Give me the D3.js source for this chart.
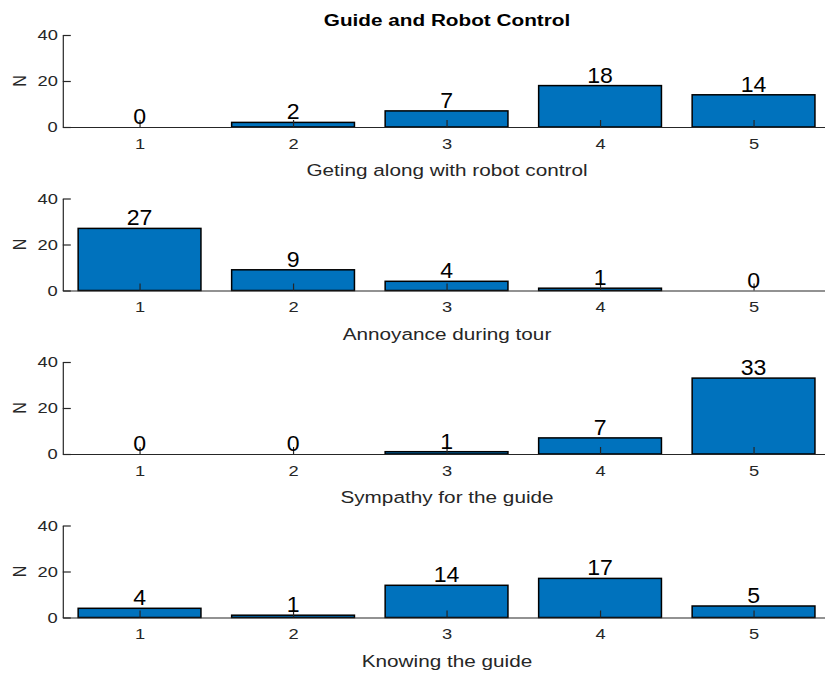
<!DOCTYPE html>
<html><head><meta charset="utf-8">
<script src="https://cdn.jsdelivr.net/npm/d3@7"></script>
<style>body{margin:0;background:#fff}svg{display:block}text{font-family:"Liberation Sans",Arial,sans-serif}</style>
</head><body>
<svg id="c" width="825" height="674"></svg>
<script>
const categories = [1, 2, 3, 4, 5];
const panelLabels = ["Geting along with robot control", "Annoyance during tour", "Sympathy for the guide", "Knowing the guide"];
const seriesControl = [0, 2, 7, 18, 14];
const seriesAnnoyance = [27, 9, 4, 1, 0];
const seriesSympathy = [0, 0, 1, 7, 33];
const seriesKnowing = [4, 1, 14, 17, 5];
const yTicks = [0, 20, 40];
const title = "Guide and Robot Control";
const yLabel = "N";

const series = [seriesControl, seriesAnnoyance, seriesSympathy, seriesKnowing];
const svg = d3.select("#c");
const ink = "#262626";
const SX = 1.22;
const x = d3.scaleLinear().domain([0.5, 5.5]).range([62.8, 830.3]);
const tops = [35, 198.5, 362, 525.5];
const ph = 92;
const bw = (x(2) - x(1)) * 0.8;

function stext(parent, tx, ty, str, size, opts = {}) {
  return parent.append("text")
    .attr("transform", `translate(${tx},${ty}) scale(${opts.sx || SX},1)`)
    .attr("text-anchor", opts.anchor || "middle")
    .style("font-size", size + "px")
    .attr("font-weight", opts.weight || "normal")
    .attr("fill", opts.fill || ink)
    .text(str);
}

stext(svg, 447, 26, title, 17, {weight: "bold", fill: "#000"});

series.forEach((vals, i) => {
  const top = tops[i];
  const y = d3.scaleLinear().domain([0, 40]).range([top + ph, top]);
  const g = svg.append("g");
  g.selectAll("rect").data(vals).join("rect")
    .attr("x", (d, j) => x(categories[j]) - bw / 2)
    .attr("y", d => y(d))
    .attr("width", bw)
    .attr("height", d => y(0) - y(d))
    .attr("fill", "#0072BD").attr("stroke", "#000").attr("stroke-width", 1.5);
  const xa = g.append("g").attr("transform", `translate(0,${y(0)})`)
    .call(d3.axisBottom(x).tickValues(categories).tickFormat(d3.format("d")).tickSizeInner(-7).tickSizeOuter(0).tickPadding(11));
  xa.select(".domain").attr("stroke", ink).attr("stroke-width", 1.2);
  xa.selectAll(".tick line").attr("stroke", ink).attr("stroke-width", 1.2);
  xa.selectAll(".tick text").attr("fill", ink).style("font-size", "15px")
    .attr("transform", `scale(${SX},1)`);
  const ya = g.append("g").attr("transform", `translate(${x(0.5)},0)`)
    .call(d3.axisLeft(y).tickValues(yTicks).tickSizeInner(-8).tickSizeOuter(0).tickPadding(5));
  ya.select(".domain").attr("stroke", ink).attr("stroke-width", 1.2);
  ya.selectAll(".tick line").attr("stroke", ink).attr("stroke-width", 1.2);
  ya.selectAll(".tick text").attr("fill", ink).style("font-size", "15px")
    .attr("x", -5 / SX).attr("transform", `scale(${SX},1)`);
  vals.forEach((d, j) => {
    stext(g, x(categories[j]), y(d) - 3, d, 22, {sx: 1.05, fill: "#000"});
  });
  g.append("text").attr("transform", `translate(26,${y(20)}) rotate(-90) scale(1,1.2)`)
    .attr("text-anchor", "middle").style("font-size", "16px").attr("fill", ink).text(yLabel);
  stext(g, 447, y(0) + 49, panelLabels[i], 17);
});
</script>
</body></html>
